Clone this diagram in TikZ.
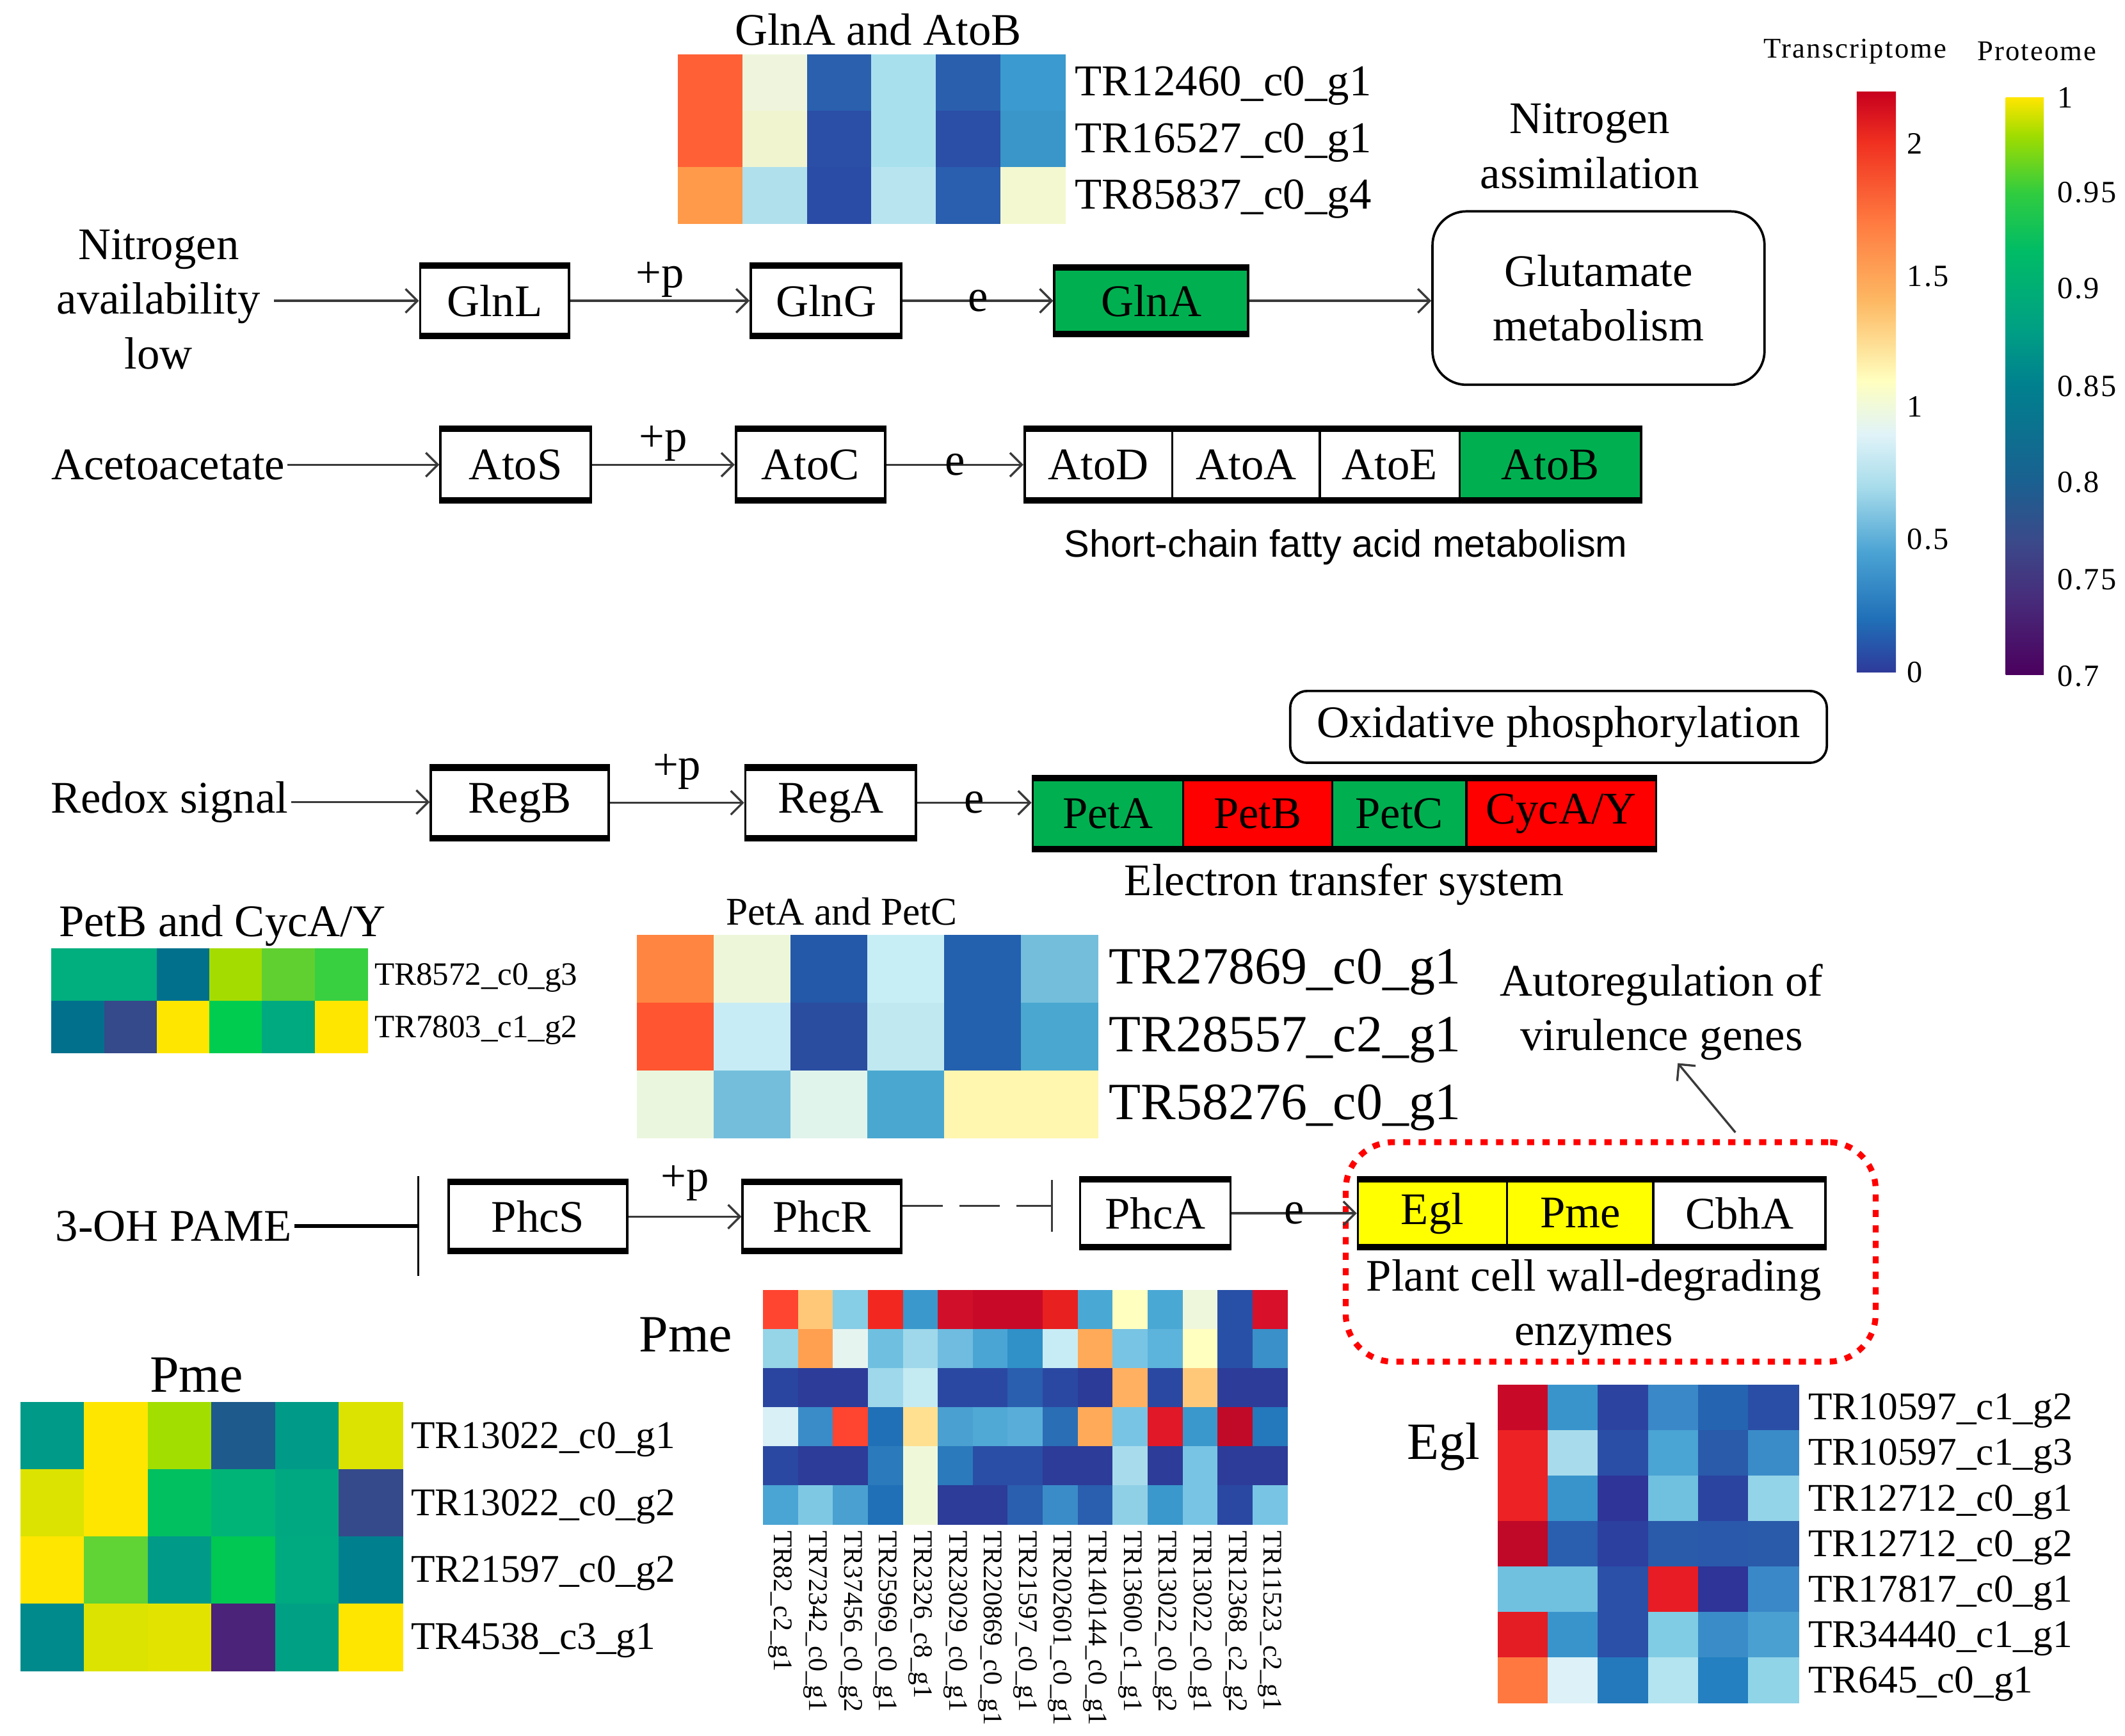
\documentclass[tikz,border=0pt]{standalone}
\usepackage{fontspec}
\setmainfont{Liberation Serif}
\newfontfamily\sansfont{Liberation Sans}
\newfontfamily\barfont[LetterSpace=5]{Liberation Serif}
\usepackage{xcolor}
\usepackage{tikz}
\usetikzlibrary{calc}
\usetikzlibrary{arrows.meta}

\definecolor{boxgreen}{HTML}{00B050}
\definecolor{boxred}{HTML}{FF0000}
\definecolor{boxyellow}{HTML}{FFFF00}
\definecolor{arrowgray}{HTML}{3A3A3A}

% transcriptome colour bar
\definecolor{ta}{HTML}{2E3A9A}\definecolor{tb}{HTML}{2070B8}
\definecolor{tc}{HTML}{4AA3D3}\definecolor{td}{HTML}{A8DCEB}
\definecolor{te}{HTML}{E0F3F8}\definecolor{tf}{HTML}{FFFFBF}
\definecolor{tg}{HTML}{FDB863}\definecolor{th}{HTML}{FF7A40}
\definecolor{ti}{HTML}{F03020}\definecolor{tj}{HTML}{C8001E}
\pgfdeclareverticalshading{transbar}{100bp}{color(0bp)=(ta); color(25bp)=(ta);
  color(29.6bp)=(tb); color(35.3bp)=(tc); color(41bp)=(td); color(45.5bp)=(te);
  color(50.1bp)=(tf); color(57bp)=(tg); color(63.8bp)=(th); color(70.7bp)=(ti);
  color(75bp)=(tj); color(100bp)=(tj)}

% proteome colour bar
\definecolor{pa}{HTML}{4B005E}\definecolor{pb}{HTML}{472D7B}
\definecolor{pc}{HTML}{3A4A8A}\definecolor{pd}{HTML}{1A6090}
\definecolor{pe}{HTML}{00808F}\definecolor{pf}{HTML}{00A084}
\definecolor{pg}{HTML}{00BC66}\definecolor{ph}{HTML}{30CC40}
\definecolor{pi}{HTML}{A0DC00}\definecolor{pj}{HTML}{FFE600}
\pgfdeclareverticalshading{protbar}{100bp}{color(0bp)=(pa); color(25bp)=(pa);
  color(31.7bp)=(pb); color(36.7bp)=(pc); color(41.7bp)=(pd); color(50bp)=(pe);
  color(55bp)=(pf); color(61.7bp)=(pg); color(66.7bp)=(ph); color(71.7bp)=(pi);
  color(75bp)=(pj); color(100bp)=(pj)}

% heat map cells: x0, y0, cell width, cell height, rows of colours
\newcommand{\heatcells}[5]{%
  \foreach \hrow [count=\hr] in {#5} {
    \foreach \hc [count=\hk] in \hrow {
      \definecolor{cellcol}{HTML}{\hc}
      \fill[cellcol] ({#1+(\hk-1)*#3},{#2+(\hr-1)*#4}) rectangle +({#3+0.4},{#4+0.4});
    }
  }
}

\begin{document}
\begin{tikzpicture}[x=0.02cm, y=-0.02cm,
        sz/.style 2 args={minimum width=#1*0.02cm, minimum height=#2*0.02cm}]
        \tikzstyle{gene} = [draw, line width=1pt, inner sep=0pt, font=\fontsize{19}{23}\selectfont,
                path picture={\draw[line width=4.4pt] (path picture bounding box.north west) -- (path picture bounding box.north east);
                        \draw[line width=4.4pt] (path picture bounding box.south west) -- (path picture bounding box.south east);}]
        \tikzstyle{txt} = [font=\fontsize{19}{23}\selectfont, align=center, inner sep=1pt]
        \tikzstyle{arr} = [draw=arrowgray, line width=0.9pt, -{Straight Barb[length=5pt, width=10pt]}]
        \tikzstyle{plab} = [midway, yshift=9pt, font=\fontsize{19}{23}\selectfont, inner sep=0pt]
        \tikzstyle{elab} = [midway, font=\fontsize{19}{23}\selectfont, inner sep=0pt]
        \tikzstyle{glab} = [anchor=west, inner sep=0pt, yshift=-1.5pt]
        \tikzstyle{ticklab} = [anchor=west, inner sep=0pt, font=\barfont\fontsize{13}{15}\selectfont]

        \useasboundingbox (0,0) rectangle (1568,1281);

        % GlnA and AtoB
        \node[txt] (ttop) at (648,22) {GlnA and AtoB};
        \heatcells{500}{40}{47.67}{41.67}{{FF6036,EEF5DC,2A60AE,A8E0EE,2A5FAE,3B9ACF},{FF6036,F0F5D0,2B4EA6,A8E0EE,2B4EA6,3A96C8},{FF9A4A,B0E0EC,2B4CA6,B8E4F0,2A5EAE,F4F8D0}}
        \foreach \t [count=\r] in {TR12460\_c0\_g1,TR16527\_c0\_g1,TR85837\_c0\_g4}
                \node[glab, font=\fontsize{18.5}{20}\selectfont] (gt\r) at (793,{40+(\r-0.5)*41.67}) {\t};

        % nitrogen
        \node[txt] (nitro) at (117,221) {Nitrogen\\availability\\low};
        \node[gene, sz={110}{55}] (glnl) at (365,222) {GlnL};
        \node[gene, sz={111}{55}] (glng) at (609.5,222) {GlnG};
        \node[gene, sz={143}{52}, fill=boxgreen] (glna) at (849.5,222) {GlnA};
        \node[txt, draw, line width=1pt, rounded corners=0.5cm, sz={245}{128}] (glut) at (1179.5,220) {Glutamate\\metabolism};
        \node[txt] (nassim) at (1173,108) {Nitrogen\\assimilation};
        \draw[arr] ($(nitro.east |- glnl.west)+(8,0)$) -- (glnl.west);
        \draw[arr] (glnl.east) -- node[plab] {+p} (glng.west);
        \draw[arr] (glng.east) -- node[elab] {e} (glna.west);
        \draw[arr] (glna.east) -- (glna.east -| glut.west);

        % acetoacetate
        \node[txt] (aceto) at (124,343) {Acetoacetate};
        \node[gene, sz={111}{56}] (atos) at (380.5,343) {AtoS};
        \node[gene, sz={110}{56}] (atoc) at (598,343) {AtoC};
        \node[gene, sz={109}{56}] (atod) at (810.5,343) {AtoD};
        \node[gene, sz={109}{56}] (atoa) at (919.5,343) {AtoA};
        \node[gene, sz={103}{56}] (atoe) at (1025.5,343) {AtoE};
        \node[gene, sz={134}{56}, fill=boxgreen] (atob) at (1144,343) {AtoB};
        \node[font=\sansfont\fontsize{16}{18}\selectfont] (scfa) at (993,404) {Short-chain fatty acid metabolism};
        \draw[arr] (aceto.east) -- (aceto.east -| atos.west);
        \draw[arr] (atos.east) -- node[plab] {+p} (atoc.west);
        \draw[arr] (atoc.east) -- node[elab] {e} (atod.west);

        % colour bars
        \node[font=\barfont\fontsize{12}{14}\selectfont] (ttrans) at (1369,38) {Transcriptome};
        \node[font=\barfont\fontsize{12}{14}\selectfont] (tprot) at (1503,38) {Proteome};
        \shade[shading=transbar] (1370,68) rectangle (1399,496);
        \shade[shading=protbar] (1480,72) rectangle (1508,498);
        \foreach \v/\y [count=\i] in {2/106,1.5/204,1/300,0.5/398,0/496}
                \node[ticklab] (tt\i) at (1407,\y) {\v};
        \foreach \v/\y [count=\i] in {1/72,0.95/142,0.9/213,0.85/285,0.8/356,0.75/428,0.7/499}
                \node[ticklab] (pt\i) at (1518,\y) {\v};

        % redox
        \node[txt, draw, line width=1pt, rounded corners=0.25cm, sz={396}{53}] (oxphos) at (1150,536.5) {Oxidative phosphorylation};
        \node[txt] (redox) at (125,592) {Redox signal};
        \node[gene, sz={131}{55}] (regb) at (383.5,592.5) {RegB};
        \node[gene, sz={126}{55}] (rega) at (613,592.5) {RegA};
        \node[gene, sz={111}{55}, fill=boxgreen] (peta) at (817.5,600.5) {PetA};
        \node[gene, sz={110}{55}, fill=boxred] (petb) at (928,600.5) {PetB};
        \node[gene, sz={99}{55}, fill=boxgreen] (petc) at (1032.5,600.5) {PetC};
        \node[gene, sz={140}{55}, fill=boxred] (cyca) at (1152,600.5) {CycA/Y};
        \node[txt] (ets) at (992,653) {Electron transfer system};
        \draw[arr] (redox.east) -- (redox.east -| regb.west);
        \draw[arr] (regb.east) -- node[plab, yshift=4pt] {+p} (rega.west);
        \draw[arr] (rega.east) -- node[elab] {e} (rega.east -| peta.west);

        % PetB and CycA/Y
        \node[txt] (tpetb) at (164,683) {PetB and CycA/Y};
        \heatcells{38}{700}{38.83}{38.5}{{00AE7E,00AE7E,00708D,A5DC00,60D030,38D040},{00708D,354A8A,FFE600,00CC50,00AA80,FFE600}}
        \foreach \t [count=\r] in {TR8572\_c0\_g3,TR7803\_c1\_g2}
                \node[glab, font=\fontsize{13.7}{15}\selectfont] (gb\r) at (276,{700+(\r-0.5)*38.5}) {\t};

        % PetA and PetC
        \node[txt, font=\fontsize{16.5}{20}\selectfont] (tpeta) at (621,673) {PetA and PetC};
        \heatcells{470}{690}{56.67}{50}{{FF8540,EEF6DA,2458A8,C8EEF5,2360AE,74BEDC},{FF5530,C8ECF5,2A4DA0,C0E8F0,2360AE,4AA8D0},{EAF6DE,74BEDC,E0F4EC,4AA8D0,FFF6B0,FFF6B0}}
        \foreach \t [count=\r] in {TR27869\_c0\_g1,TR28557\_c2\_g1,TR58276\_c0\_g1}
                \node[glab, font=\fontsize{22}{24}\selectfont] (ga\r) at (818,{690+(\r-0.5)*50}) {\t};

        % Phc
        \node[draw=red, line width=2.5pt, dash pattern=on 3pt off 3.5pt, rounded corners=0.7cm, sz={391}{162}] (redbox) at (1188.5,924) {};
        \node[txt] (autoreg) at (1226,747) {Autoregulation of\\virulence genes};
        \draw[arr] ($(redbox.north)+(92,-5)$) -- ($(autoreg.south)+(12,0)$);
        \node[txt] (pame) at (128,905) {3-OH PAME};
        \node[gene, sz={132}{54}] (phcs) at (397,898) {PhcS};
        \node[gene, sz={117}{54}] (phcr) at (606.5,898) {PhcR};
        \node[gene, sz={111}{53}] (phca) at (852.5,895.5) {PhcA};
        \node[gene, sz={110}{53}, fill=boxyellow] (egl) at (1057,895.5) {Egl};
        \node[gene, sz={108}{53}, fill=boxyellow] (pme) at (1166,895.5) {Pme};
        \node[gene, sz={127}{53}] (cbha) at (1283.5,895.5) {CbhA};
        \node[txt] (pcwde) at (1176,965) {Plant cell wall-degrading\\enzymes};
        \draw[line width=1.5pt, shorten >=0.42cm, -{Bar[width=42pt, line width=0.8pt]}] (pame.east) -- (pame.east -| phcs.west);
        \draw[arr] (phcs.east) -- node[plab, yshift=5pt] {+p} (phcr.west);
        \draw[draw=arrowgray, line width=0.9pt, dash pattern=on 17pt off 7pt, shorten >=0.38cm, -{Bar[width=22pt, line width=0.8pt]}]
                ($(phcr.east)+(0,-8)$) -- ($(phcr.east -| phca.west)+(0,-8)$);
        \draw[arr] (phca.east) -- node[elab] {e} (egl.west);

        % Pme, columns
        \node[txt, font=\fontsize{22}{24}\selectfont] (tpmec) at (506,985) {Pme};
        \heatcells{563}{952}{25.8}{28.83}{{FF4530,FFC878,86CDE6,F22820,3A98CC,D0102A,C80A28,C80A28,E82020,4AA8D4,FFFFC0,4AA8D4,EEF6DC,2850A6,D8102A},{96D4E8,FFA050,E6F4F0,6FC0E0,9ED8EA,6FBCE0,4AA4D4,3090C8,C8ECF5,FFAA58,78C4E4,5CB4DC,FFFFC0,2850A6,3A90C8},{2A45A0,2C3C98,2C3C98,9ED8EA,C4EAF2,2A48A2,2A48A2,2A5EAE,2A48A2,2C3A98,FFB060,2A48A2,FFC878,2C3C98,2C3C98},{D8F0F6,3A8CC8,FF4530,2070B8,FFE090,4AA0D0,50A8D4,58AED8,2A6EB6,FFAA58,78C4E4,E01828,3A98CC,C00A28,2478BC},{2A48A2,2C3C98,2C3C98,2A7ABC,F0F8DA,2A7ABC,2A4EA6,2A4EA6,2C3C98,2C3C98,A8DCEC,2C3C98,78C4E4,2C3C98,2C3C98},{4AA4D4,7EC8E4,4AA0D0,2070B8,F0F8DA,2C3C98,2C3C98,2A5EAE,3A8CC8,2A5EAE,90D0E6,3A98CC,78C4E4,2A48A2,78C4E4}}
        \foreach \t [count=\k] in {TR82\_c2\_g1,TR72342\_c0\_g1,TR37456\_c0\_g2,TR25969\_c0\_g1,TR2326\_c8\_g1,TR23029\_c0\_g1,TR220869\_c0\_g1,TR21597\_c0\_g1,TR202601\_c0\_g1,TR140144\_c0\_g1,TR13600\_c1\_g1,TR13022\_c0\_g2,TR13022\_c0\_g1,TR12368\_c2\_g2,TR11523\_c2\_g1}
                \node[rotate=-90, anchor=west, inner sep=1pt, font=\fontsize{11.3}{12}\selectfont] (pc\k) at ({563+(\k-0.5)*25.8},1128) {\t};

        % Pme, rows
        \node[txt, font=\fontsize{22}{24}\selectfont] (tpmer) at (145,1015) {Pme};
        \heatcells{15}{1035}{47}{49.5}{{009A88,FFE600,A2DE00,1E5A8C,009A88,DCE300},{DCE300,FFE600,00C060,00B478,00A882,354A8A},{FFE600,60D335,009A88,00C853,00AA80,00808F},{008A8C,DCE300,E2E400,4B2379,00A084,FFE600}}
        \foreach \t [count=\r] in {TR13022\_c0\_g1,TR13022\_c0\_g2,TR21597\_c0\_g2,TR4538\_c3\_g1}
                \node[glab, font=\fontsize{16.5}{18}\selectfont] (gp\r) at (303,{1035+(\r-0.5)*49.5}) {\t};

        % Egl
        \node[txt, font=\fontsize{22}{24}\selectfont] (tegl) at (1065,1068) {Egl};
        \heatcells{1105}{1022}{37}{33.57}{{C80A28,3A94CC,2C44A0,3A88C8,2464B0,2A4EA6},{EC2224,A8DCEC,2A4EA6,4AA4D4,2A5AAA,3A8CC8},{EC2224,3A94CC,2E3498,70C0E0,2A44A0,94D4E8},{C00828,2A5EAE,2C40A0,2A5AAA,2A58AA,2A5AAA},{70C0E0,70C0E0,2A50A8,E81C24,2E3498,3A88C8},{E41C24,3A94CC,2A50A8,80CCE4,3A8CC8,4AA0D0},{FF7840,DCF2F8,2478BC,B4E4F0,2480C0,90D4E8}}
        \foreach \t [count=\r] in {TR10597\_c1\_g2,TR10597\_c1\_g3,TR12712\_c0\_g1,TR12712\_c0\_g2,TR17817\_c0\_g1,TR34440\_c1\_g1,TR645\_c0\_g1}
                \node[glab, font=\fontsize{16.5}{18}\selectfont] (ge\r) at (1334,{1022+(\r-0.5)*33.57}) {\t};
\end{tikzpicture}
\end{document}
